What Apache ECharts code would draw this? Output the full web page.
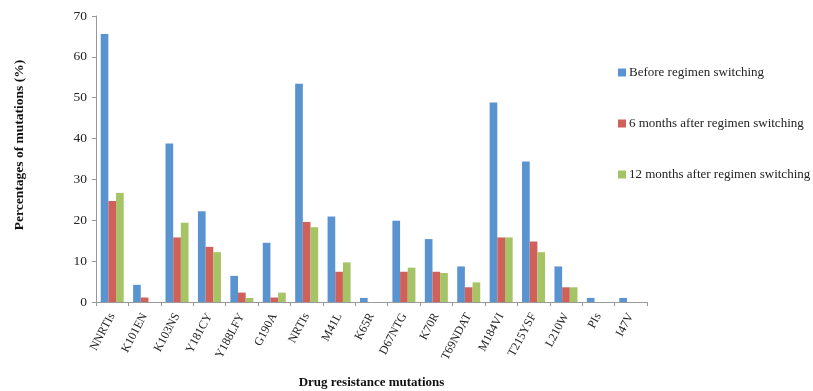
<!DOCTYPE html>
<html>
<head>
<meta charset="utf-8">
<script src="https://cdn.jsdelivr.net/npm/echarts@6/dist/echarts.min.js"></script>
<style>html,body{margin:0;padding:0;background:#fff;}#c{width:813px;height:391px;}</style>
</head>
<body>
<div id="c"></div>
<script>
const categories = ['NNRTIs','K101EN','K103NS','Y181CY','Y188LFY','G190A','NRTIs','M41L','K65R','D67NTG','K70R','T69NDAT','M184VI','T215YSF','L210W','PIs','I47V'];
const before = [65.6, 4.2, 38.8, 22.2, 6.4, 14.5, 53.4, 20.9, 1.0, 19.9, 15.4, 8.7, 48.8, 34.4, 8.7, 1.0, 1.0];
const after6 = [24.7, 1.1, 15.8, 13.5, 2.3, 1.1, 19.6, 7.4, 0, 7.4, 7.4, 3.6, 15.8, 14.8, 3.6, 0, 0];
const after12 = [26.7, 0, 19.4, 12.2, 1.0, 2.3, 18.3, 9.7, 0, 8.4, 7.1, 4.8, 15.8, 12.2, 3.6, 0, 0];
const seriesNames = ['Before regimen switching','6 months after regimen switching','12 months after regimen switching'];
const yTicks = {min: 0, max: 70, interval: 10};

const font = 'Liberation Serif';
const chart = echarts.init(document.getElementById('c'));
const colors = ['#5A94D0', '#D0605A', '#A5C465'];
chart.setOption({
  animation: false,
  color: colors,
  textStyle: {fontFamily: font},
  grid: {left: 96, right: 813 - 647, top: 16, bottom: 391 - 302, containLabel: false, outerBoundsMode: 'none'},
  legend: {
    orient: 'vertical', left: 613, top: 61, itemGap: 38, itemWidth: 8, itemHeight: 8,
    icon: 'rect',
    textStyle: {fontFamily: font, fontSize: 13, color: '#222', padding: [0,0,0,-2]},
    data: seriesNames
  },
  xAxis: {
    type: 'category', data: categories,
    name: 'Drug resistance mutations', nameLocation: 'middle', nameGap: 74,
    nameTextStyle: {fontFamily: font, fontWeight: 'bold', fontSize: 13, color: '#111'},
    axisLine: {lineStyle: {color: '#999'}},
    axisTick: {show: true, lineStyle: {color: '#999'}, length: 4},
    axisLabel: {rotate: 62, fontFamily: font, fontSize: 12, color: '#222', margin: 12, interval: 0}
  },
  yAxis: {
    type: 'value', min: yTicks.min, max: yTicks.max, interval: yTicks.interval,
    name: 'Percentages of mutations (%)', nameLocation: 'middle', nameGap: 69, nameRotate: 90,
    nameTextStyle: {fontFamily: font, fontWeight: 'bold', fontSize: 13.5, color: '#111', padding: [0,0,0,28]},
    axisLine: {show: true, lineStyle: {color: '#999'}},
    axisTick: {show: true, lineStyle: {color: '#999'}, length: 4},
    splitLine: {show: false},
    axisLabel: {fontFamily: font, fontSize: 13.5, color: '#222', margin: 9}
  },
  series: [
    {name: seriesNames[0], type: 'bar', data: before, barGap: '0%', barCategoryGap: '29%'},
    {name: seriesNames[1], type: 'bar', data: after6, barGap: '0%', barCategoryGap: '29%'},
    {name: seriesNames[2], type: 'bar', data: after12, barGap: '0%', barCategoryGap: '29%'}
  ]
});
</script>
</body>
</html>
